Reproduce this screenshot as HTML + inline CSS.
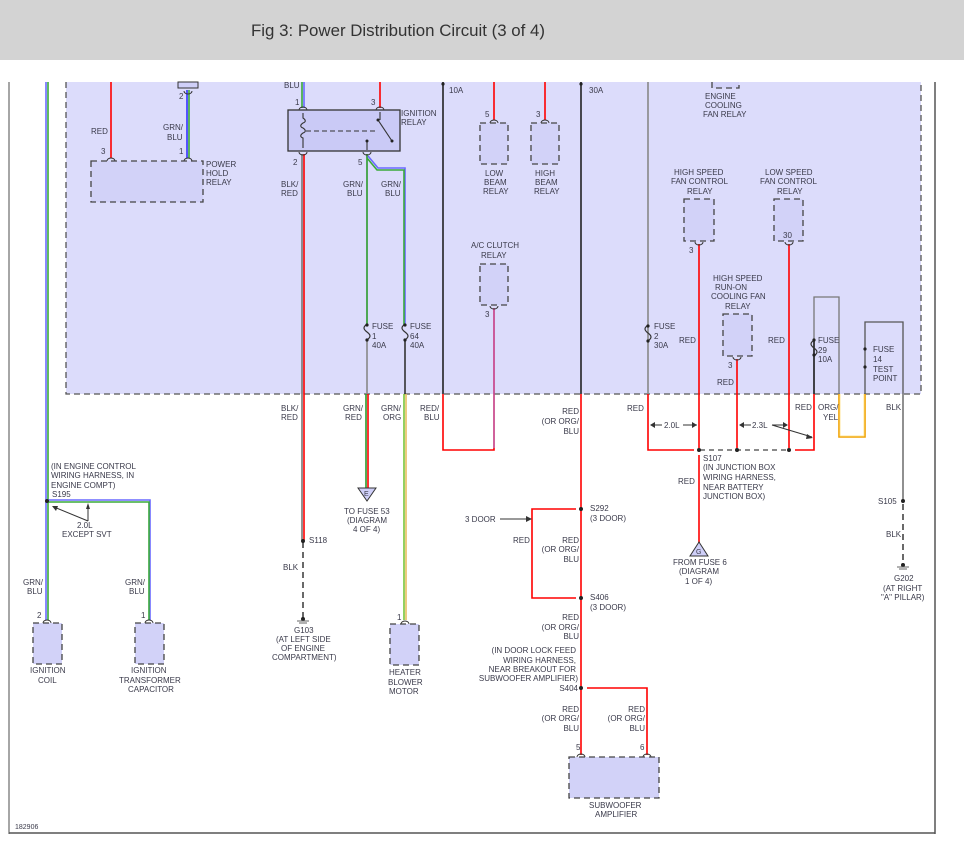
<!DOCTYPE html>
<html><head><meta charset="utf-8"><style>
html,body{margin:0;padding:0;background:#fff;}
svg{display:block;}
text{font-family:"Liberation Sans",sans-serif;font-size:8px;fill:#3a3a4a;}
.e{text-anchor:end;}
</style></head><body>
<svg width="964" height="851" viewBox="0 0 964 851" xmlns="http://www.w3.org/2000/svg">
<rect x="0" y="0" width="964" height="60" fill="#d3d3d3"/>
<text x="251" y="36" style="font-size:17px;fill:#333" textLength="294" lengthAdjust="spacingAndGlyphs">Fig 3: Power Distribution Circuit (3 of 4)</text>
<line x1="9" y1="82" x2="9" y2="834" stroke="#888" stroke-width="1.5"/>
<line x1="935" y1="82" x2="935" y2="834" stroke="#555" stroke-width="1.5"/>
<line x1="9" y1="833" x2="935" y2="833" stroke="#555" stroke-width="1.5"/>
<text x="15" y="829" style="font-size:7px">182906</text>
<rect x="66" y="82" width="855" height="312" fill="#dcdcfb"/>
<path d="M66 82 V394 H921 V82" fill="none" stroke="#555" stroke-width="1.3" stroke-dasharray="6,4"/>

<g fill="none" stroke-width="1.6">
<line x1="46" y1="82" x2="46" y2="620" stroke="#6a6aff"/>
<line x1="48" y1="82" x2="48" y2="620" stroke="#3aaa3a"/>
<path d="M47 500 H150 V620" stroke="#6a6aff"/>
<path d="M47 502 H149 V620" stroke="#3aaa3a"/>
<line x1="111" y1="82" x2="111" y2="158" stroke="#f00"/>
<line x1="187" y1="90" x2="187" y2="158" stroke="#3333ff"/>
<line x1="189" y1="90" x2="189" y2="158" stroke="#3aaa3a"/>
<line x1="302" y1="82" x2="302" y2="108" stroke="#3aaa3a"/>
<line x1="304" y1="82" x2="304" y2="108" stroke="#6a6aff"/>
<line x1="380" y1="82" x2="380" y2="108" stroke="#f00"/>
<line x1="302" y1="154" x2="302" y2="540" stroke="#777"/>
<line x1="304" y1="154" x2="304" y2="540" stroke="#f00"/>
<line x1="367" y1="154" x2="367" y2="325" stroke="#2a9a2a"/>
<path d="M368 156 L378 168 H405 V325" stroke="#6a6aff"/>
<path d="M367 158 L377 170 H404 V325" stroke="#3aaa3a"/>
<line x1="367" y1="340" x2="367" y2="394" stroke="#888"/>
<line x1="405" y1="340" x2="405" y2="394" stroke="#333"/>
<line x1="366" y1="394" x2="366" y2="488" stroke="#2a9a2a"/>
<line x1="368" y1="394" x2="368" y2="488" stroke="#f00"/>
<line x1="404" y1="394" x2="404" y2="620" stroke="#7ac43a"/>
<line x1="406" y1="394" x2="406" y2="620" stroke="#e8c060"/>
<line x1="303" y1="542" x2="303" y2="618" stroke="#444" stroke-dasharray="6,4"/>
<line x1="443" y1="82" x2="443" y2="394" stroke="#222"/>
<path d="M443 394 V450 H494 V308" stroke="#f00"/>
<path d="M494 308 V448" stroke="#b060c0" stroke-width="1.2"/>
<line x1="494" y1="82" x2="494" y2="120" stroke="#f00"/>
<line x1="545" y1="82" x2="545" y2="120" stroke="#f00"/>
<line x1="581" y1="82" x2="581" y2="394" stroke="#222"/>
<line x1="581" y1="394" x2="581" y2="755" stroke="#f00"/>
<path d="M576 509 H532 V598 H576" stroke="#f00"/>
<path d="M587 688 H647 V755" stroke="#f00"/>
<line x1="648" y1="82" x2="648" y2="394" stroke="#888"/>
<path d="M648 394 V450 H694" stroke="#f00"/>
<line x1="699" y1="244" x2="699" y2="448" stroke="#f00"/>
<line x1="699" y1="455" x2="699" y2="543" stroke="#f00"/>
<line x1="737" y1="359" x2="737" y2="448" stroke="#f00"/>
<line x1="789" y1="244" x2="789" y2="448" stroke="#f00"/>
<path d="M795 450 H814 V394" stroke="#f00"/>
<line x1="700" y1="450" x2="789" y2="450" stroke="#444" stroke-width="1.2" stroke-dasharray="5,4"/>
<path d="M814 394 V297 H839 V394" stroke="#777" stroke-width="1.3"/>
<line x1="814" y1="340" x2="814" y2="394" stroke="#222"/>
<path d="M839 394 V437 H865 V394" stroke="#f0a000"/>
<path d="M840 394 V436 H864 V394" stroke="#ffe080" stroke-width="0.8"/>
<path d="M865 394 V322 H903 V500" stroke="#555" stroke-width="1.3"/>
<line x1="903" y1="504" x2="903" y2="562" stroke="#444" stroke-dasharray="6,4"/>
</g>

<g fill="none" stroke="#333" stroke-width="1.2">
<path d="M367 324 c-4 3 -4 5 0 8 c4 3 4 5 0 8"/>
<path d="M405 324 c-4 3 -4 5 0 8 c4 3 4 5 0 8"/>
<path d="M648 325 c-4 3 -4 5 0 8 c4 3 4 5 0 8"/>
<path d="M814 340 c-4 3 -4 5 0 8 c4 3 4 5 0 8"/>
</g>
<g fill="#222">
<circle cx="367" cy="325" r="1.6"/><circle cx="367" cy="340" r="1.6"/>
<circle cx="405" cy="325" r="1.6"/><circle cx="405" cy="340" r="1.6"/>
<circle cx="648" cy="326" r="1.6"/><circle cx="648" cy="341" r="1.6"/>
<circle cx="814" cy="340" r="1.6"/><circle cx="814" cy="355" r="1.6"/>
<circle cx="865" cy="349" r="1.6"/><circle cx="865" cy="367" r="1.6"/>
<circle cx="443" cy="84" r="1.6"/><circle cx="581" cy="84" r="1.6"/>
<circle cx="47" cy="501" r="2"/><circle cx="303" cy="541" r="2"/>
<circle cx="581" cy="509" r="2"/><circle cx="581" cy="598" r="2"/><circle cx="581" cy="688" r="2"/>
<circle cx="699" cy="450" r="2"/><circle cx="737" cy="450" r="2"/><circle cx="789" cy="450" r="2"/>
<circle cx="903" cy="501" r="2"/><circle cx="303" cy="619" r="2"/><circle cx="903" cy="565" r="2"/>
</g>

<g fill="#d2d2f8" stroke="#444" stroke-width="1.3" stroke-dasharray="6,4">
<rect x="91" y="161" width="112" height="41"/>
<rect x="480" y="123" width="28" height="41"/>
<rect x="531" y="123" width="28" height="41"/>
<rect x="480" y="264" width="28" height="41"/>
<rect x="684" y="199" width="30" height="42"/>
<rect x="774" y="199" width="29" height="42"/>
<rect x="723" y="314" width="29" height="42"/>
<rect x="33" y="623" width="29" height="41"/>
<rect x="135" y="623" width="29" height="41"/>
<rect x="390" y="624" width="29" height="41"/>
<rect x="569" y="757" width="90" height="41"/>
<path d="M712 82 V88 H739 V82"/>
</g>
<rect x="178" y="82" width="20" height="6" fill="#cfcff8" stroke="#333" stroke-width="1"/>
<rect x="288" y="110" width="112" height="41" fill="#cacaf6" stroke="#333" stroke-width="1.3"/>
<g fill="none" stroke="#333" stroke-width="1.1">
<path d="M303 113 V118 c3 2 3 4 0 5 c-3 2 -3 4 0 5 c3 2 3 4 0 5 c-3 2 -3 4 0 5 V148"/>
<line x1="306" y1="131" x2="375" y2="131" stroke-dasharray="5,3"/>
<line x1="378" y1="120" x2="392" y2="141"/>
<line x1="380" y1="112" x2="380" y2="120"/>
<line x1="367" y1="141" x2="367" y2="150"/>
</g>
<circle cx="378" cy="120" r="1.5" fill="#222"/><circle cx="392" cy="141" r="1.5" fill="#222"/><circle cx="367" cy="141" r="1.5" fill="#222"/>
<g fill="none" stroke="#333" stroke-width="1">
<path d="M107 161 a4 3 0 0 1 8 0"/><path d="M184 161 a4 3 0 0 1 8 0"/>
<path d="M184 91 a4 3 0 0 0 8 0"/>
<path d="M299 110 a4 3 0 0 1 8 0"/><path d="M376 110 a4 3 0 0 1 8 0"/>
<path d="M299 152 a4 3 0 0 0 8 0"/><path d="M363 152 a4 3 0 0 0 8 0"/>
<path d="M490 123 a4 3 0 0 1 8 0"/><path d="M541 123 a4 3 0 0 1 8 0"/>
<path d="M490 306 a4 3 0 0 0 8 0"/>
<path d="M695 242 a4 3 0 0 0 8 0"/><path d="M785 242 a4 3 0 0 0 8 0"/>
<path d="M733 357 a4 3 0 0 0 8 0"/>
<path d="M43 623 a4 3 0 0 1 8 0"/><path d="M145 623 a4 3 0 0 1 8 0"/>
<path d="M401 624 a4 3 0 0 1 8 0"/>
<path d="M577 757 a4 3 0 0 1 8 0"/><path d="M643 757 a4 3 0 0 1 8 0"/>
</g>
<g stroke="#666" stroke-width="1">
<line x1="297" y1="621" x2="309" y2="621"/><line x1="299" y1="623" x2="307" y2="623"/>
<line x1="897" y1="567" x2="909" y2="567"/><line x1="899" y1="569" x2="907" y2="569"/>
</g>
<polygon points="358,488 376,488 367,501" fill="#cfcff8" stroke="#333"/>
<text x="364" y="496" style="font-size:7px">E</text>
<polygon points="690,556 708,556 699,542" fill="#cfcff8" stroke="#333"/>
<text x="696" y="554" style="font-size:7px">G</text>
<g stroke="#333" stroke-width="1" fill="none">
<line x1="54" y1="507" x2="88" y2="521"/><line x1="88" y1="521" x2="88" y2="507"/>
<line x1="500" y1="519" x2="528" y2="519"/>
<line x1="653" y1="425" x2="662" y2="425"/><line x1="683" y1="425" x2="697" y2="425"/>
<line x1="741" y1="425" x2="751" y2="425"/><line x1="772" y1="425" x2="787" y2="425"/>
<line x1="772" y1="425" x2="812" y2="437"/>
</g>
<g fill="#333">
<polygon points="52,506 58,506 56,511"/><polygon points="86,509 90,509 88,503"/>
<polygon points="532,519 526,516 526,522"/>
<polygon points="650,425 655,422 655,428"/><polygon points="697,425 692,422 692,428"/>
<polygon points="739,425 744,422 744,428"/><polygon points="788,425 783,422 783,428"/>
<polygon points="813,438 807,434 806,439"/>
</g>

<g>
<text x="91" y="134">RED</text>
<text x="163" y="130">GRN/</text><text x="167" y="140">BLU</text>
<text x="101" y="154">3</text><text x="179" y="154">1</text><text x="179" y="99">2</text>
<text x="206" y="167">POWER</text><text x="206" y="176">HOLD</text><text x="206" y="185">RELAY</text>
<text x="284" y="88">BLU</text>
<text x="295" y="105">1</text><text x="371" y="105">3</text>
<text x="401" y="116">IGNITION</text><text x="401" y="125">RELAY</text>
<text x="293" y="165">2</text><text x="358" y="165">5</text>
<text x="281" y="187">BLK/</text><text x="281" y="196">RED</text>
<text x="343" y="187">GRN/</text><text x="347" y="196">BLU</text>
<text x="381" y="187">GRN/</text><text x="385" y="196">BLU</text>
<text x="372" y="329">FUSE</text><text x="372" y="339">1</text><text x="372" y="348">40A</text>
<text x="410" y="329">FUSE</text><text x="410" y="339">64</text><text x="410" y="348">40A</text>
<text x="449" y="93">10A</text><text x="589" y="93">30A</text>
<text x="485" y="117">5</text><text x="536" y="117">3</text>
<text x="485" y="176">LOW</text><text x="484" y="185">BEAM</text><text x="483" y="194">RELAY</text>
<text x="535" y="176">HIGH</text><text x="535" y="185">BEAM</text><text x="534" y="194">RELAY</text>
<text x="471" y="248">A/C CLUTCH</text><text x="481" y="258">RELAY</text>
<text x="485" y="317">3</text>
<text x="705" y="99">ENGINE</text><text x="705" y="108">COOLING</text><text x="703" y="117">FAN RELAY</text>
<text x="674" y="175">HIGH SPEED</text><text x="671" y="184">FAN CONTROL</text><text x="687" y="194">RELAY</text>
<text x="765" y="175">LOW SPEED</text><text x="760" y="184">FAN CONTROL</text><text x="777" y="194">RELAY</text>
<text x="689" y="253">3</text><text x="783" y="238">30</text>
<text x="713" y="281">HIGH SPEED</text><text x="715" y="290">RUN-ON</text><text x="711" y="299">COOLING FAN</text><text x="725" y="309">RELAY</text>
<text x="728" y="368">3</text><text x="717" y="385">RED</text>
<text x="654" y="329">FUSE</text><text x="654" y="339">2</text><text x="654" y="348">30A</text>
<text x="679" y="343">RED</text><text x="768" y="343">RED</text>
<text x="818" y="343">FUSE</text><text x="818" y="353">29</text><text x="818" y="362">10A</text>
<text x="873" y="352">FUSE</text><text x="873" y="362">14</text><text x="873" y="372">TEST</text><text x="873" y="381">POINT</text>
<text x="281" y="411">BLK/</text><text x="281" y="420">RED</text>
<text x="343" y="411">GRN/</text><text x="345" y="420">RED</text>
<text x="381" y="411">GRN/</text><text x="383" y="420">ORG</text>
<text x="420" y="411">RED/</text><text x="424" y="420">BLU</text>
<text class="e" x="579" y="414">RED</text><text class="e" x="579" y="424">(OR ORG/</text><text class="e" x="579" y="434">BLU</text>
<text x="627" y="411">RED</text>
<text x="664" y="428">2.0L</text><text x="752" y="428">2.3L</text>
<text x="795" y="410">RED</text><text x="818" y="410">ORG/</text><text x="823" y="420">YEL</text>
<text x="886" y="410">BLK</text>
<text x="703" y="461">S107</text><text x="703" y="470">(IN JUNCTION BOX</text><text x="703" y="480">WIRING HARNESS,</text><text x="703" y="490">NEAR BATTERY</text><text x="703" y="499">JUNCTION BOX)</text>
<text x="678" y="484">RED</text>
<text x="673" y="565">FROM FUSE 6</text><text x="679" y="574">(DIAGRAM</text><text x="685" y="584">1 OF 4)</text>
<text x="878" y="504">S105</text><text x="886" y="537">BLK</text>
<text x="894" y="581">G202</text><text x="883" y="591">(AT RIGHT</text><text x="881" y="600">"A" PILLAR)</text>
<text x="51" y="469">(IN ENGINE CONTROL</text><text x="51" y="478">WIRING HARNESS, IN</text><text x="51" y="488">ENGINE COMPT)</text><text x="52" y="497">S195</text>
<text x="77" y="528">2.0L</text><text x="62" y="537">EXCEPT SVT</text>
<text x="23" y="585">GRN/</text><text x="27" y="594">BLU</text>
<text x="125" y="585">GRN/</text><text x="129" y="594">BLU</text>
<text x="37" y="618">2</text><text x="141" y="618">1</text><text x="397" y="620">1</text>
<text x="30" y="673">IGNITION</text><text x="38" y="683">COIL</text>
<text x="131" y="673">IGNITION</text><text x="119" y="683">TRANSFORMER</text><text x="128" y="692">CAPACITOR</text>
<text x="309" y="543">S118</text><text x="283" y="570">BLK</text>
<text x="294" y="633">G103</text><text x="276" y="642">(AT LEFT SIDE</text><text x="281" y="651">OF ENGINE</text><text x="272" y="660">COMPARTMENT)</text>
<text x="344" y="514">TO FUSE 53</text><text x="347" y="523">(DIAGRAM</text><text x="353" y="532">4 OF 4)</text>
<text x="389" y="675">HEATER</text><text x="388" y="685">BLOWER</text><text x="389" y="694">MOTOR</text>
<text x="465" y="522">3 DOOR</text>
<text x="590" y="511">S292</text><text x="590" y="521">(3 DOOR)</text>
<text x="513" y="543">RED</text>
<text class="e" x="579" y="543">RED</text><text class="e" x="579" y="552">(OR ORG/</text><text class="e" x="579" y="562">BLU</text>
<text x="590" y="600">S406</text><text x="590" y="610">(3 DOOR)</text>
<text class="e" x="579" y="620">RED</text><text class="e" x="579" y="630">(OR ORG/</text><text class="e" x="579" y="639">BLU</text>
<text class="e" x="576" y="653">(IN DOOR LOCK FEED</text><text class="e" x="576" y="663">WIRING HARNESS,</text><text class="e" x="576" y="672">NEAR BREAKOUT FOR</text><text class="e" x="578" y="681">SUBWOOFER AMPLIFIER)</text>
<text class="e" x="578" y="691">S404</text>
<text class="e" x="579" y="712">RED</text><text class="e" x="579" y="721">(OR ORG/</text><text class="e" x="579" y="731">BLU</text>
<text class="e" x="645" y="712">RED</text><text class="e" x="645" y="721">(OR ORG/</text><text class="e" x="645" y="731">BLU</text>
<text x="576" y="750">5</text><text x="640" y="750">6</text>
<text x="589" y="808">SUBWOOFER</text><text x="595" y="817">AMPLIFIER</text>
</g>
</svg>
</body></html>
